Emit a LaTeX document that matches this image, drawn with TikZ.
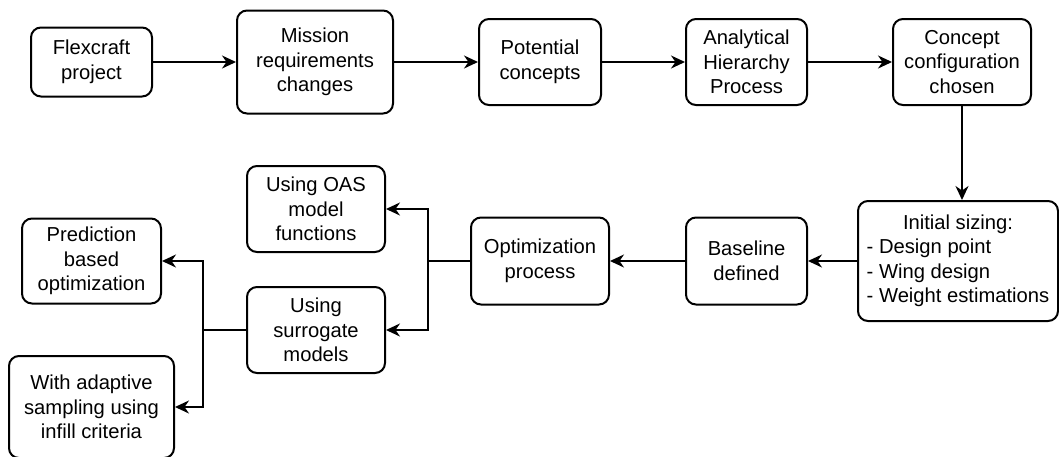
\documentclass[tikz,border=0pt]{standalone}
\usepackage{fontspec}
\setmainfont{Liberation Sans}
\usetikzlibrary{arrows.meta}
\begin{document}
\begin{tikzpicture}[x=1pt,y=-1pt,
  box/.style={draw, line width=2pt, rounded corners=10pt, align=center, inner sep=0pt,
    font=\fontsize{20.2}{24.5}\selectfont},
  arr/.style={line width=2pt, -{Stealth[length=14pt,width=13pt,inset=4.5pt]}},
  ln/.style={line width=2pt}]
\useasboundingbox (0,0) rectangle (1059,456);
\node[box, minimum width=121, minimum height=69] (flex) at (91.5,62) {Flexcraft\\project};
\node[box, minimum width=156, minimum height=103] (mission) at (315,62) {Mission\\requirements\\changes};
\node[box, minimum width=122, minimum height=86] (potential) at (540,62) {Potential\\concepts};
\node[box, minimum width=121, minimum height=86] (ahp) at (746.5,62) {Analytical\\Hierarchy\\Process};
\node[box, minimum width=138, minimum height=86] (concept) at (962,62) {Concept\\configuration\\chosen};
\node[box, minimum width=200, minimum height=120] (initial) at (958,261) {\begin{tabular}{@{}l@{}}\multicolumn{1}{@{}c@{}}{Initial sizing:}\\- Design point\\- Wing design\\- Weight estimations\end{tabular}};
\node[box, minimum width=121, minimum height=87] (baseline) at (746.5,261) {Baseline\\defined};
\node[box, minimum width=138, minimum height=87] (optim) at (540,261) {Optimization\\process};
\node[box, minimum width=138, minimum height=86] (oas) at (316,209) {Using OAS\\model\\functions};
\node[box, minimum width=138, minimum height=86] (surr) at (316,330) {Using\\surrogate\\models};
\node[box, minimum width=139, minimum height=85] (pred) at (91.5,261) {Prediction\\based\\optimization};
\node[box, minimum width=165, minimum height=102] (adapt) at (91.5,407) {With adaptive\\sampling using\\infill criteria};
\coordinate (j1) at (428,261);
\coordinate (j2) at (203,330);
\draw[arr] (flex.east) -- (mission.west);
\draw[arr] (mission.east) -- (potential.west);
\draw[arr] (potential.east) -- (ahp.west);
\draw[arr] (ahp.east) -- (concept.west);
\draw[arr] (concept.south) -- (concept.south |- initial.north);
\draw[arr] (initial.west) -- (baseline.east);
\draw[arr] (baseline.west) -- (optim.east);
\draw[ln] (optim.west) -- (j1);
\draw[arr] (j1) |- (oas.east);
\draw[arr] (j1) |- (surr.east);
\draw[ln] (surr.west) -- (j2);
\draw[arr] (j2) |- (pred.east);
\draw[arr] (j2) |- (adapt.east);
\end{tikzpicture}
\end{document}
